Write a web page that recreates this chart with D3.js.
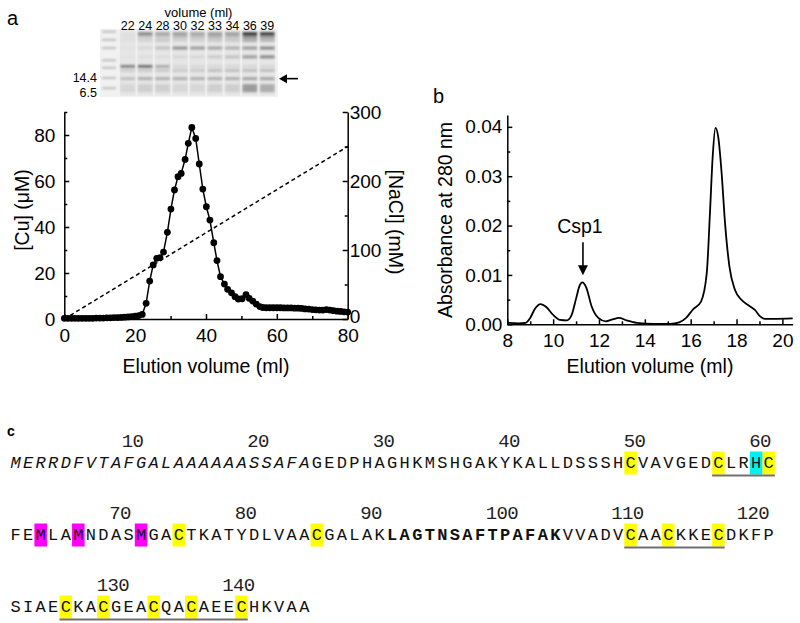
<!DOCTYPE html>
<html>
<head>
<meta charset="utf-8">
<script src="https://cdn.jsdelivr.net/npm/d3@7/dist/d3.min.js"></script>
<style>
  html, body { margin: 0; padding: 0; background: #fff; }
  svg { display: block; font-family: 'Liberation Sans', Arial, sans-serif; }
  .axis path, .axis line { stroke: #000; stroke-width: 1.5; }
  .axis text { font-size: 19px; fill: #000; }
</style>
</head>
<body>
<div id="chart"></div>
<script>
'use strict';

// a: copper elution profile
var cuVolume = [0, 1, 2, 3, 4, 5, 6, 7, 8, 9, 10, 11, 12, 13, 14, 15, 16, 17, 18, 19, 20, 21,
  22, 23.1, 24.1, 25.1, 26.1, 27, 28, 29.1, 30.1, 31.1, 32.1, 33, 34.1, 35, 36, 37.1, 38.1,
  39.1, 40.1, 41.1, 42.2, 43.1, 44.1, 45.2, 46.1, 47.2, 48.2, 49.1, 50.2, 51.3, 52.2, 53.2,
  54.2, 55.2, 56, 57, 58, 59, 60, 61, 62, 63, 64, 65, 66, 67, 68, 69, 70, 71, 72, 73, 74,
  75, 76, 77, 78, 79, 80];
var cuConc = [0.3, 0.3, 0.3, 0.3, 0.3, 0.3, 0.3, 0.3, 0.3, 0.4, 0.4, 0.4, 0.5, 0.5, 0.6, 0.6,
  0.7, 0.8, 0.9, 1.0, 1.2, 1.5,
  2.0, 6.8, 16.5, 23.5, 26.4, 26.7, 29.1, 37.7, 47.8, 56.1, 61.9, 63.3, 69.4, 76.4, 83.3,
  78.5, 67.4, 56.5, 48.8, 43.0, 33.2, 25.4, 18.4, 15.2, 12.9, 11.4, 9.7, 8.7, 8.8, 10.6,
  9.0, 7.8, 6.5, 5.4, 5.0, 4.9, 4.9, 4.9, 4.9, 4.9, 4.8, 4.8, 4.8, 4.7, 4.7, 4.6, 4.4,
  4.3, 4.1, 4.0, 3.9, 3.9, 4.1, 3.9, 3.6, 3.4, 3.3, 3.1, 3.0];
var naclVolume = [0, 80];
var naclConc = [0, 250];

var volumeTicks = [0, 20, 40, 60, 80];
var cuTicks = [0, 20, 40, 60, 80];
var naclTicks = [0, 100, 200, 300];

// a: gel above the profile
var gelLanes = ['22', '24', '28', '30', '32', '33', '34', '36', '39'];
var markerBands = [0.04, 0.16, 0.28, 0.46, 0.57, 0.72, 0.87];
var markerLabels = [{ text: '14.4', pos: 0.72 }, { text: '6.5', pos: 0.93 }];
var bandPos = [0.07, 0.12, 0.17, 0.28, 0.41, 0.55, 0.61, 0.73, 0.87];
var bandLevels = [
  [0.03, 0.5, 0.35, 0.4, 0.35, 0.4, 0.4, 0.95, 0.9],
  [0.03, 0.15, 0.15, 0.2, 0.2, 0.25, 0.2, 0.45, 0.4],
  [0.03, 0.1, 0.15, 0.1, 0.1, 0.15, 0.15, 0.3, 0.25],
  [0.02, 0.08, 0.2, 0.45, 0.4, 0.35, 0.3, 0.4, 0.5],
  [0.02, 0.04, 0.04, 0.08, 0.08, 0.15, 0.2, 0.4, 0.5],
  [0.5, 0.6, 0.3, 0.08, 0.08, 0.08, 0.08, 0.08, 0.08],
  [0.12, 0.15, 0.15, 0.15, 0.15, 0.2, 0.2, 0.2, 0.2],
  [0.2, 0.3, 0.3, 0.3, 0.3, 0.3, 0.3, 0.35, 0.35],
  [0.08, 0.12, 0.12, 0.08, 0.08, 0.12, 0.12, 0.4, 0.3]
];
var targetBand = 0.73;

// b: gel filtration trace
var absVolume = [8.0, 8.5, 8.8, 9.0, 9.2, 9.45, 9.7, 10.0, 10.3, 10.6, 10.8, 11.0, 11.15,
  11.27, 11.45, 11.68, 11.97, 12.3, 12.6, 12.87, 13.2, 13.65, 14.4, 15.1, 15.5, 15.8, 16.1,
  16.45, 16.7, 16.84, 16.96, 17.08, 17.2, 17.35, 17.5, 17.69, 17.93, 18.23, 18.5, 18.8,
  19.03, 19.24, 19.6, 20.45];
var absValue = [0.0003, 0.0002, 0.0003, 0.0013, 0.0031, 0.0041, 0.0035, 0.0019, 0.0009,
  0.0008, 0.0018, 0.0052, 0.0078, 0.0085, 0.0074, 0.0036, 0.0013, 0.0006, 0.001, 0.0013,
  0.0008, 0.0003, 0.0001, 0.0001, 0.0004, 0.0013, 0.003, 0.0046, 0.0103, 0.0225, 0.034,
  0.0398, 0.038, 0.0306, 0.0204, 0.0117, 0.007, 0.0049, 0.0039, 0.0029, 0.0016, 0.0011,
  0.0011, 0.0012];
var absXTicks = [8, 10, 12, 14, 16, 18, 20];
var absYTicks = [0, 0.01, 0.02, 0.03, 0.04];
var csp1Peak = { volume: 11.3, value: 0.0085, label: 'Csp1' };

// c: sequence
var seqLines = [
  'MERRDFVTAFGALAAAAAASSAFAGEDPHAGHKMSHGAKYKALLDSSSHCVAVGEDCLRHC',
  'FEMLAMNDASMGACTKATYDLVAACGALAKLAGTNSAFTPAFAKVVADVCAACKKECDKFP',
  'SIAECKACGEACQACAEECHKVAA'
];
var lineStart = [1, 62, 123];
var italicResidues = [1, 24];
var boldResidues = [92, 105];
var yellowResidues = [50, 57, 61, 75, 86, 111, 114, 118, 127, 130, 134, 137, 141];
var cyanResidues = [60];
var magentaResidues = [64, 67, 72];
var underlined = [[57, 61], [111, 118], [127, 141]];
var residueNumbers = [10, 20, 30, 40, 50, 60, 70, 80, 90, 100, 110, 120, 130, 140];

var width = 800, height = 623;

var svg = d3.select('#chart').append('svg')
  .attr('width', width)
  .attr('height', height);

svg.append('defs').append('filter')
  .attr('id', 'smear')
  .attr('x', '-20%').attr('y', '-100%')
  .attr('width', '140%').attr('height', '300%')
  .append('feGaussianBlur')
  .attr('stdDeviation', '1.3 1.2');

// ---------- panel a ----------
svg.append('text')
  .attr('x', 7).attr('y', 25)
  .style('font-size', '20px')
  .text('a');

var gelX = d3.scaleBand().domain(gelLanes).range([119, 276]);
var gelY = d3.scaleLinear().domain([0, 1]).range([29, 97]);
var shade = d3.scaleLinear().domain([0, 1]).range(['#e6e6e6', '#2a2a2a']);

var gel = svg.append('g').attr('class', 'gel');

gel.append('rect')
  .attr('x', 100).attr('y', gelY(0))
  .attr('width', 178).attr('height', gelY(1) - gelY(0))
  .attr('fill', '#f1f1f1');

gel.selectAll('.lane')
  .data(gelLanes)
  .enter().append('rect')
  .attr('class', 'lane')
  .attr('x', function(d) { return gelX(d) + 1; })
  .attr('y', gelY(0.02))
  .attr('width', gelX.bandwidth() - 2)
  .attr('height', gelY(0.98) - gelY(0.02))
  .attr('fill', '#e6e6e6');

var bandLayer = gel.append('g').attr('filter', 'url(#smear)');

bandLayer.selectAll('.marker')
  .data(markerBands)
  .enter().append('rect')
  .attr('class', 'marker')
  .attr('x', 102).attr('width', 14)
  .attr('y', function(d) { return gelY(d) - 1; })
  .attr('height', 2)
  .attr('fill', shade(0.22));

bandPos.forEach(function(pos, row) {
  bandLayer.selectAll('.band' + row)
    .data(bandLevels[row])
    .enter().append('rect')
    .attr('class', 'band' + row)
    .attr('x', function(d, i) { return gelX(gelLanes[i]) + 1.5; })
    .attr('width', gelX.bandwidth() - 3)
    .attr('y', gelY(pos) - (row === 8 ? 4 : 1.5))
    .attr('height', row === 8 ? 8 : (row === 0 ? 3.5 : 3))
    .attr('fill', function(d) { return shade(d); });
});

gel.append('text')
  .attr('x', (gelX.range()[0] + gelX.range()[1]) / 2 + 1).attr('y', 17)
  .attr('text-anchor', 'middle')
  .style('font-size', '13px')
  .text('volume (ml)');

gel.selectAll('.laneLabel')
  .data(gelLanes)
  .enter().append('text')
  .attr('class', 'laneLabel')
  .attr('x', function(d) { return gelX(d) + gelX.bandwidth() / 2; })
  .attr('y', 30)
  .attr('text-anchor', 'middle')
  .style('font-size', '12.5px')
  .text(function(d) { return d; });

gel.selectAll('.markerLabel')
  .data(markerLabels)
  .enter().append('text')
  .attr('class', 'markerLabel')
  .attr('x', 97)
  .attr('y', function(d) { return gelY(d.pos) + 4.5; })
  .attr('text-anchor', 'end')
  .style('font-size', '12.5px')
  .text(function(d) { return d.text; });

gel.append('line')
  .attr('x1', 298).attr('x2', 285)
  .attr('y1', gelY(targetBand)).attr('y2', gelY(targetBand))
  .attr('stroke', '#000').attr('stroke-width', 1.6);
gel.append('path')
  .attr('d', 'M279,' + gelY(targetBand) + 'l8,-4.5v9z')
  .attr('fill', '#000');

var xA = d3.scaleLinear().domain([0, 80]).range([64.3, 347.7]);
var yCu = d3.scaleLinear().domain([0, 90]).range([319, 112]);
var yNa = d3.scaleLinear().domain([0, 300]).range([319, 112]);

var plotA = svg.append('g').attr('class', 'plotA');

plotA.append('path')
  .datum(naclVolume.map(function(v, i) { return [v, naclConc[i]]; }))
  .attr('fill', 'none')
  .attr('stroke', '#000')
  .attr('stroke-width', 1.5)
  .attr('stroke-dasharray', '4,3')
  .attr('d', d3.line()
    .x(function(d) { return xA(d[0]); })
    .y(function(d) { return yNa(d[1]); }));

var cuPoints = cuVolume.map(function(v, i) { return [v, cuConc[i]]; });

plotA.append('path')
  .datum(cuPoints)
  .attr('fill', 'none')
  .attr('stroke', '#000')
  .attr('stroke-width', 1.5)
  .attr('d', d3.line()
    .x(function(d) { return xA(d[0]); })
    .y(function(d) { return yCu(d[1]); }));

plotA.selectAll('.dot')
  .data(cuPoints)
  .enter().append('circle')
  .attr('class', 'dot')
  .attr('r', 3.4)
  .attr('cx', function(d) { return xA(d[0]); })
  .attr('cy', function(d) { return yCu(d[1]); })
  .attr('fill', '#000');

function minorTicks(lo, hi, step) {
  return d3.range(lo, hi + step / 2, step);
}

// minor ticks first, then the major axes on top
plotA.append('g').attr('class', 'axis')
  .attr('transform', 'translate(0,' + yCu(0) + ')')
  .call(d3.axisBottom(xA).tickValues(minorTicks(10, 70, 20)).tickSize(-3).tickFormat(''))
  .select('.domain').remove();
plotA.append('g').attr('class', 'axis')
  .attr('transform', 'translate(' + xA(0) + ',0)')
  .call(d3.axisLeft(yCu).tickValues(minorTicks(10, 90, 20)).tickSize(-3).tickFormat(''))
  .select('.domain').remove();
plotA.append('g').attr('class', 'axis')
  .attr('transform', 'translate(' + xA(80) + ',0)')
  .call(d3.axisRight(yNa).tickValues(minorTicks(50, 250, 100)).tickSize(-3).tickFormat(''))
  .select('.domain').remove();

plotA.append('g').attr('class', 'axis')
  .attr('transform', 'translate(0,' + yCu(0) + ')')
  .call(d3.axisBottom(xA).tickValues(volumeTicks).tickSize(-5).tickSizeOuter(0).tickPadding(9.5));
plotA.append('g').attr('class', 'axis')
  .attr('transform', 'translate(' + xA(0) + ',0)')
  .call(d3.axisLeft(yCu).tickValues(cuTicks).tickSize(-5).tickSizeOuter(0).tickPadding(9));
plotA.append('g').attr('class', 'axis right')
  .attr('transform', 'translate(' + xA(80) + ',0)')
  .call(d3.axisRight(yNa).tickValues(naclTicks).tickSize(-5).tickSizeOuter(0).tickPadding(2))
  .selectAll('.tick text')
  .attr('dy', function(d) { return d === 0 ? '0.2em' : '0.32em'; });

plotA.append('text')
  .attr('transform', 'translate(29,' + 210 + ') rotate(-90)')
  .attr('text-anchor', 'middle')
  .style('font-size', '19.5px')
  .text('[Cu] (\u03bcM)');

plotA.append('text')
  .attr('transform', 'translate(389,' + 222 + ') rotate(90)')
  .attr('text-anchor', 'middle')
  .style('font-size', '19.5px')
  .text('[NaCl] (mM)');

plotA.append('text')
  .attr('x', (xA.range()[0] + xA.range()[1]) / 2).attr('y', 373)
  .attr('text-anchor', 'middle')
  .style('font-size', '19.5px')
  .text('Elution volume (ml)');

// ---------- panel b ----------
svg.append('text')
  .attr('x', 433).attr('y', 103)
  .style('font-size', '20px')
  .text('b');

var xB = d3.scaleLinear().domain([8, 20.45]).range([507.3, 792.7]);
var yB = d3.scaleLinear().domain([0, 0.0424]).range([324.3, 115]);

var plotB = svg.append('g').attr('class', 'plotB');

plotB.append('path')
  .datum(absVolume.map(function(v, i) { return [v, absValue[i]]; }))
  .attr('fill', 'none')
  .attr('stroke', '#000')
  .attr('stroke-width', 1.8)
  .attr('d', d3.line()
    .curve(d3.curveMonotoneX)
    .x(function(d) { return xB(d[0]); })
    .y(function(d) { return yB(d[1]); }));

plotB.append('g').attr('class', 'axis')
  .attr('transform', 'translate(0,' + yB(0) + ')')
  .call(d3.axisBottom(xB).tickValues(minorTicks(9, 19, 2)).tickSize(-3).tickFormat(''))
  .select('.domain').remove();
plotB.append('g').attr('class', 'axis')
  .attr('transform', 'translate(' + xB(8) + ',0)')
  .call(d3.axisLeft(yB).tickValues(minorTicks(0.005, 0.035, 0.01)).tickSize(-3).tickFormat(''))
  .select('.domain').remove();

plotB.append('g').attr('class', 'axis')
  .attr('transform', 'translate(0,' + yB(0) + ')')
  .call(d3.axisBottom(xB).tickValues(absXTicks).tickSize(-5).tickSizeOuter(0).tickPadding(9));
plotB.append('g').attr('class', 'axis')
  .attr('transform', 'translate(' + xB(8) + ',0)')
  .call(d3.axisLeft(yB).tickValues(absYTicks).tickSize(-5).tickSizeOuter(0)
    .tickPadding(5).tickFormat(d3.format('.2f')));

plotB.append('text')
  .attr('transform', 'translate(452,' + 220 + ') rotate(-90)')
  .attr('text-anchor', 'middle')
  .style('font-size', '19.5px')
  .text('Absorbance at 280 nm');

plotB.append('text')
  .attr('x', (xB(8) + xB(20.45)) / 2).attr('y', 373)
  .attr('text-anchor', 'middle')
  .style('font-size', '19.5px')
  .text('Elution volume (ml)');

var tipY = yB(csp1Peak.value) - 7;
plotB.append('line')
  .attr('x1', xB(csp1Peak.volume)).attr('x2', xB(csp1Peak.volume))
  .attr('y1', tipY - 33).attr('y2', tipY - 8)
  .attr('stroke', '#000').attr('stroke-width', 1.6);
plotB.append('path')
  .attr('d', 'M' + xB(csp1Peak.volume) + ',' + tipY + 'l-5,-10h10z')
  .attr('fill', '#000');
plotB.append('text')
  .attr('x', xB(csp1Peak.volume) - 3).attr('y', tipY - 42)
  .attr('text-anchor', 'middle')
  .style('font-size', '19.5px')
  .text(csp1Peak.label);

// ---------- panel c ----------
svg.append('text')
  .attr('x', 7).attr('y', 436)
  .style('font-size', '14px')
  .style('font-weight', 'bold')
  .text('c');

var cell = 12.55;
var seqFont = 17;
var spacing = cell - 0.6 * seqFont;
var resX = d3.scaleLinear().domain([0, 61]).range([9.3, 9.3 + 61 * cell]);
var lineY = d3.scaleLinear().domain([0, 2]).range([468, 612]);

function locate(res) {
  var row = 0;
  while (row < lineStart.length - 1 && res >= lineStart[row + 1]) { row++; }
  return { row: row, index: res - lineStart[row] };
}

var seq = svg.append('g').attr('class', 'sequence');

function highlight(list, colour) {
  seq.selectAll(null)
    .data(list)
    .enter().append('rect')
    .attr('x', function(d) { return resX(locate(d).index); })
    .attr('y', function(d) { return lineY(locate(d).row) - 16.5; })
    .attr('width', cell)
    .attr('height', 23)
    .attr('fill', colour);
}
highlight(yellowResidues, '#ffff00');
highlight(cyanResidues, '#00f0f0');
highlight(magentaResidues, '#ff00ff');

seq.selectAll('.underline')
  .data(underlined)
  .enter().append('line')
  .attr('class', 'underline')
  .attr('x1', function(d) { return resX(locate(d[0]).index); })
  .attr('x2', function(d) { return resX(locate(d[1]).index + 1); })
  .attr('y1', function(d) { return lineY(locate(d[0]).row) + 7.5; })
  .attr('y2', function(d) { return lineY(locate(d[0]).row) + 7.5; })
  .attr('stroke', '#707070')
  .attr('stroke-width', 2);

seqLines.forEach(function(line, row) {
  var t = seq.append('text')
    .attr('x', resX(0) + spacing / 2)
    .attr('y', lineY(row))
    .style('font-family', "'Liberation Mono', 'Courier New', monospace")
    .style('font-size', seqFont + 'px')
    .style('letter-spacing', spacing + 'px')
    .attr('fill', '#111');

  // split the line into plain / italic / bold runs
  var runs = [];
  for (var i = 0; i < line.length; i++) {
    var res = lineStart[row] + i;
    var kind = 'plain';
    if (res >= italicResidues[0] && res <= italicResidues[1]) { kind = 'italic'; }
    if (res >= boldResidues[0] && res <= boldResidues[1]) { kind = 'bold'; }
    if (runs.length && runs[runs.length - 1].kind === kind) {
      runs[runs.length - 1].text += line[i];
    } else {
      runs.push({ kind: kind, text: line[i] });
    }
  }
  runs.forEach(function(r) {
    t.append('tspan')
      .style('font-style', r.kind === 'italic' ? 'italic' : 'normal')
      .style('font-weight', r.kind === 'bold' ? 'bold' : 'normal')
      .text(r.text);
  });
});

seq.selectAll('.resnum')
  .data(residueNumbers)
  .enter().append('text')
  .attr('class', 'resnum')
  .attr('x', function(d) { return resX(locate(d).index) - 0.5; })
  .attr('y', function(d) { return lineY(locate(d).row) - 21.5; })
  .style('font-family', "'Liberation Mono', 'Courier New', monospace")
  .style('font-size', '19px')
  .style('letter-spacing', '-0.6px')
  .attr('fill', '#222')
  .text(function(d) { return d; });
</script>
</body>
</html>
